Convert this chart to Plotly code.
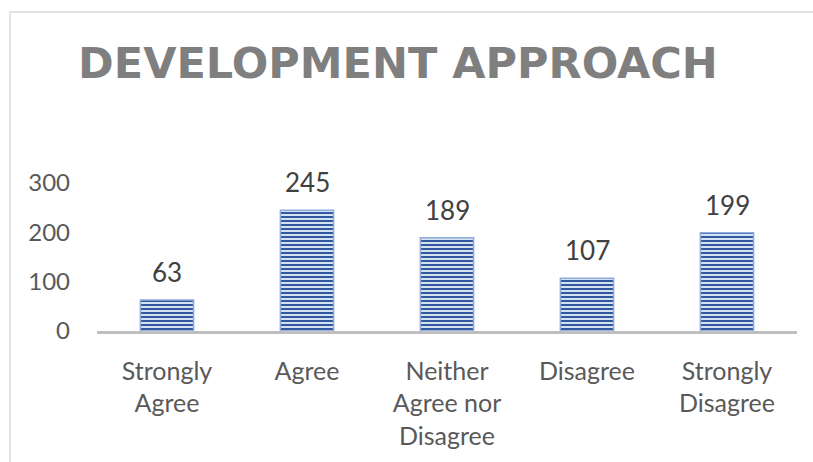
import plotly.graph_objects as go

# Survey responses on the development approach
categories = ["Strongly<br>Agree", "Agree", "Neither<br>Agree nor<br>Disagree", "Disagree", "Strongly<br>Disagree"]
responses = [63, 245, 189, 107, 199]
y_ticks = [0, 100, 200, 300]

W, H = 813, 462
L, R, T, B = 97, 16, 183, 131
pw, ph = W - L - R, H - T - B

fig = go.Figure()
fig.add_trace(go.Bar(
    x=categories,
    y=responses,
    width=0.38,
    marker=dict(
        color="#dce7f6",
        line=dict(color="#8eaadb", width=1.5),
        pattern=dict(shape="-", size=4, solidity=0.55, fgcolor="#30599f", bgcolor="#e8f0fa",
                     fgopacity=1),
    ),
    showlegend=False,
))

# value labels above each bar
for c, v in zip(categories, responses):
    fig.add_annotation(x=c, y=v, text=str(v), showarrow=False, yanchor="bottom",
                       yshift=10, font=dict(family="Lato", size=26, color="#404040"))

# chart frame
fig.add_shape(type="rect", xref="paper", yref="paper",
              x0=(10 - L) / pw, x1=(W + 20 - L) / pw,
              y0=-1.2, y1=(H - B - 12) / ph,
              line=dict(color="#d9d9d9", width=1.5), fillcolor="rgba(0,0,0,0)", layer="below")

fig.update_layout(
    width=W, height=H,
    margin=dict(l=L, r=R, t=T, b=B),
    paper_bgcolor="white", plot_bgcolor="white",
    title=dict(text="<b>DEVELOPMENT APPROACH</b>", x=(398) / W, xanchor="center",
               y=1 - 63 / H, yanchor="middle",
               font=dict(family="DejaVu Sans", size=43, color="#7f7f7f")),
    font=dict(family="Lato", size=25, color="#595959"),
    xaxis=dict(showline=True, linecolor="#bfbfbf", linewidth=2.5, showgrid=False,
               ticks="", ticklabelstandoff=16, tickfont=dict(size=25, color="#595959"),
               fixedrange=True),
    yaxis=dict(range=[0, 300], tickvals=y_ticks, showgrid=False, zeroline=False,
               showline=False, ticks="", ticklabelstandoff=26,
               tickfont=dict(size=24, color="#595959"), fixedrange=True),
)

fig.write_html("out.html", config={"displayModeBar": False})
